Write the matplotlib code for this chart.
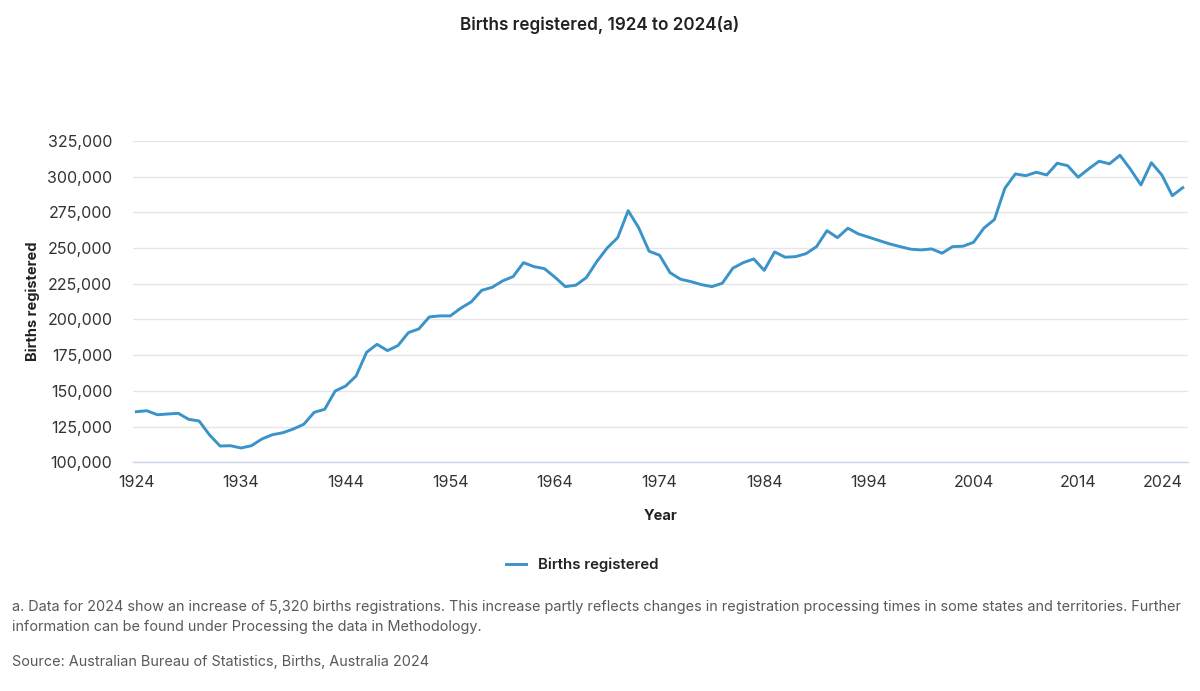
import matplotlib
matplotlib.use("Agg")
import matplotlib.pyplot as plt
from matplotlib.ticker import FuncFormatter

plt.rcParams['font.family'] = ['Inter', 'DejaVu Sans']

years = list(range(1924, 2025))

births = [
    135400, 136100, 133300, 133800, 134300, 130100, 128900, 119100, 111400, 111600,  # 1924-1933
    110000, 111600, 116300, 119300, 120700, 123300, 126600, 135000, 137100, 149900,  # 1934-1943
    153400, 160400, 177000, 182600, 178200, 181700, 190800, 193400, 201800, 202500,  # 1944-1953
    202500, 207900, 212300, 220400, 222500, 227000, 230000, 239800, 237000, 235600,  # 1954-1963
    229600, 223000, 224000, 229300, 240500, 250100, 257300, 276200, 264300, 247800,  # 1964-1973
    245000, 232800, 228200, 226500, 224400, 223000, 225400, 235900, 239800, 242400,  # 1974-1983
    234400, 247300, 243600, 244000, 246100, 251000, 262200, 257300, 263900, 259900,  # 1984-1993
    257600, 255200, 252900, 251000, 249200, 248700, 249400, 246400, 251000, 251300,  # 1994-2003
    254000, 264000, 270000, 291900, 301900, 300700, 303100, 301200, 309400, 307700,  # 2004-2013
    299600, 305400, 310800, 309000, 315000, 305200, 294200, 309800, 301200, 286700,  # 2014-2023
    292300,  # 2024
]

x_ticks = [1924, 1934, 1944, 1954, 1964, 1974, 1984, 1994, 2004, 2014, 2024]
y_ticks = [100000, 125000, 150000, 175000, 200000, 225000, 250000, 275000, 300000, 325000]

line_color = "#3a93c9"
text_color = "#333333"
note_color = "#595959"

fig = plt.figure(figsize=(12, 6.91), dpi=100)
ax = fig.add_axes([0.111, 0.331, 0.879, 0.465])

ax.plot(years, births, color=line_color, lw=2.1, label="Births registered")

ax.set_xlim(1923.7, 2024.5)
ax.set_ylim(100000, 325000)
ax.set_xticks(x_ticks)
ax.set_yticks(y_ticks)
ax.yaxis.set_major_formatter(FuncFormatter(lambda v, p: f"{int(v):,}"))

ax.grid(axis="y", color="#e6e6e6", lw=1)
ax.set_axisbelow(True)
for s in ["top", "right", "left"]:
    ax.spines[s].set_visible(False)
ax.spines["bottom"].set_color("#ccd6eb")
ax.spines["bottom"].set_linewidth(1)

ax.tick_params(axis="y", length=0, pad=15, labelsize=11.5, labelcolor=text_color)
ax.tick_params(axis="x", length=0, pad=9, labelsize=11.5, labelcolor=text_color)
# last year label is pulled inside like the original
ax.get_xticklabels()[-1].set_horizontalalignment("right")

ax.set_xlabel("Year", fontsize=10.5, fontweight="bold", color="#222222", labelpad=14)
fig.text(0.027, 0.5635, "Births registered", rotation=90, ha="center", va="center",
         fontsize=10.5, fontweight="bold", color="#222222")

fig.text(0.5, 1 - 25 / 691, "Births registered, 1924 to 2024(a)", ha="center", va="center",
         fontsize=12.3, fontweight="semibold", color="#222222")

fig.legend(loc="center", bbox_to_anchor=(0.485, 1 - 565 / 691), frameon=False,
           handlelength=1.3, prop={"size": 10.8, "weight": "semibold"})
for t in fig.legends[0].get_texts():
    t.set_color("#222222")

fig.text(0.01, 1 - 607 / 691,
         "a. Data for 2024 show an increase of 5,320 births registrations. This increase partly "
         "reflects changes in registration processing times in some states and territories. Further",
         ha="left", va="center", fontsize=10.4, color=note_color)
fig.text(0.01, 1 - 627 / 691, "information can be found under Processing the data in Methodology.",
         ha="left", va="center", fontsize=10.4, color=note_color)
fig.text(0.01, 1 - 662 / 691, "Source: Australian Bureau of Statistics, Births, Australia 2024",
         ha="left", va="center", fontsize=10.4, color=note_color)

fig.savefig("out.png", dpi=100)
